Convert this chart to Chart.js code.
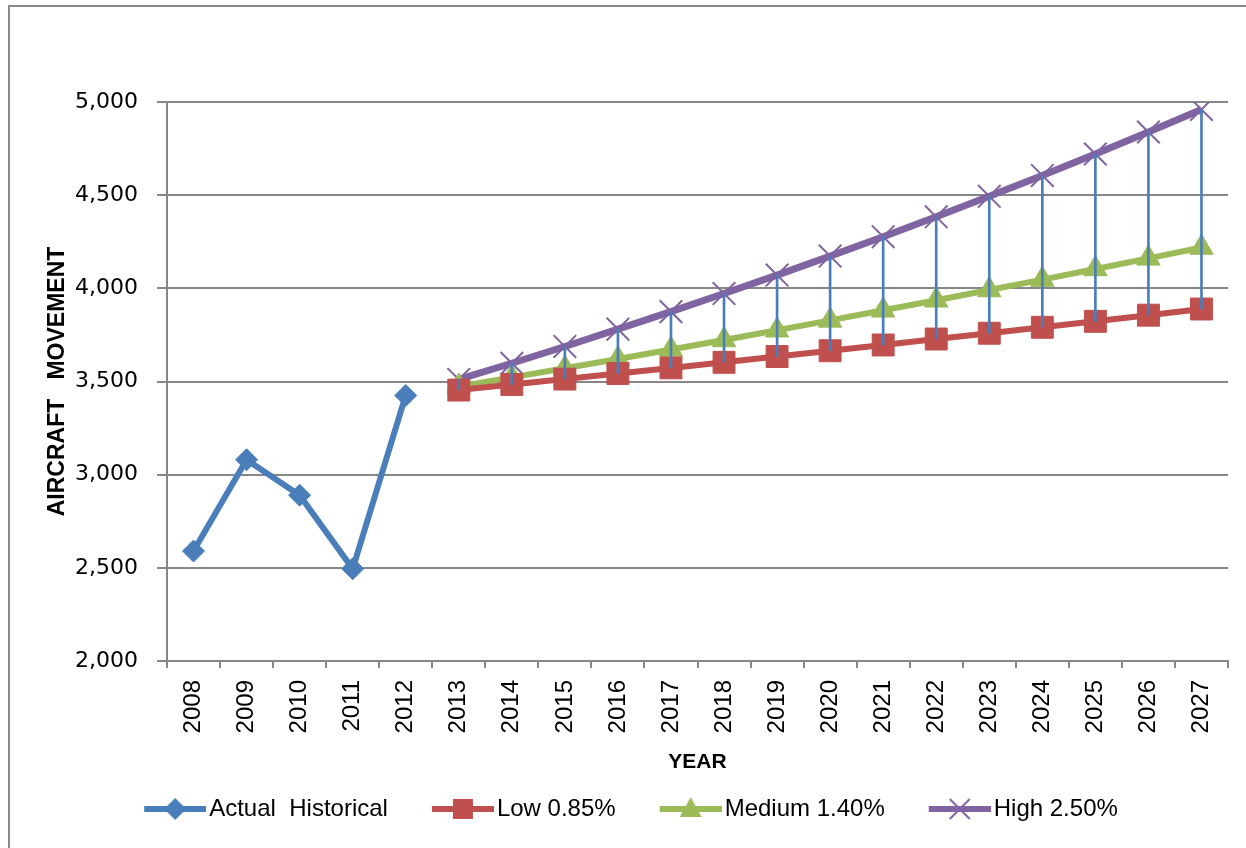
<!DOCTYPE html>
<html>
<head>
<meta charset="utf-8">
<script src="https://cdn.jsdelivr.net/npm/chart.js"></script>
<style>
  html, body { margin: 0; padding: 0; background: #fff; overflow: hidden; }
  #frame { position: absolute; left: 8px; top: 5px; width: 1300px; height: 900px; border: 2px solid #8a8a8a; }
  #wrap { position: absolute; left: 0; top: 0; width: 1246px; height: 848px; }
</style>
</head>
<body>
<div id="frame"></div>
<div id="wrap"><canvas id="chart" width="1246" height="848"></canvas></div>
<script>
const years = ['2008','2009','2010','2011','2012','2013','2014','2015','2016','2017',
               '2018','2019','2020','2021','2022','2023','2024','2025','2026','2027'];
const actual = [2590, 3080, 2890, 2495, 3425, null, null, null, null, null,
                null, null, null, null, null, null, null, null, null, null];
const low    = [null, null, null, null, null, 3454, 3484, 3513, 3543, 3573,
                3603, 3634, 3665, 3696, 3728, 3759, 3791, 3823, 3856, 3889];
const medium = [null, null, null, null, null, 3473, 3522, 3571, 3621, 3672,
                3723, 3775, 3828, 3882, 3936, 3991, 4047, 4104, 4161, 4219];
const high   = [null, null, null, null, null, 3511, 3598, 3688, 3781, 3875,
                3972, 4071, 4173, 4277, 4384, 4494, 4606, 4721, 4839, 4960];

// high-low lines between the Low and High forecasts
const hiLow = low.map((v, i) => v == null ? null : [v, high[i]]);

const BLUE = '#4A7EBB', RED = '#C0504D', GREEN = '#9BBB59', PURPLE = '#8064A2';
const GRID = '#878787';

// legend icon: a short line with the marker on it, padded on the left for spacing
function legendIcon(color, marker) {
  const c = document.createElement('canvas');
  c.width = 105; c.height = 28;
  const g = c.getContext('2d');
  const cx = 74, cy = 14;
  g.strokeStyle = color; g.fillStyle = color; g.lineWidth = 6;
  g.beginPath(); g.moveTo(43, cy); g.lineTo(105, cy); g.stroke();
  g.beginPath();
  if (marker === 'diamond') {
    g.moveTo(cx, cy - 11); g.lineTo(cx + 11, cy); g.lineTo(cx, cy + 11); g.lineTo(cx - 11, cy); g.closePath(); g.fill();
  } else if (marker === 'square') {
    g.rect(cx - 10, cy - 10, 20, 20); g.fill();
  } else if (marker === 'triangle') {
    g.moveTo(cx, cy - 12); g.lineTo(cx + 11, cy + 8); g.lineTo(cx - 11, cy + 8); g.closePath(); g.fill();
  } else {
    g.lineWidth = 2;
    g.moveTo(cx - 10, cy - 10); g.lineTo(cx + 10, cy + 10);
    g.moveTo(cx + 10, cy - 10); g.lineTo(cx - 10, cy + 10); g.stroke();
  }
  return c;
}

const ctx = document.getElementById('chart').getContext('2d');
new Chart(ctx, {
  type: 'line',
  data: {
    labels: years,
    datasets: [
      {
        label: 'Actual  Historical', data: actual,
        borderColor: BLUE, backgroundColor: BLUE, borderWidth: 6,
        pointStyle: 'rectRot', pointRadius: 11, pointBorderWidth: 1,
        icon: legendIcon(BLUE, 'diamond'), order: 1
      },
      {
        label: 'Low 0.85%', data: low,
        borderColor: RED, backgroundColor: RED, borderWidth: 6,
        pointStyle: 'rect', pointRadius: 15.5, pointBorderWidth: 1,
        icon: legendIcon(RED, 'square'), order: 1
      },
      {
        label: 'Medium 1.40%', data: medium,
        borderColor: GREEN, backgroundColor: GREEN, borderWidth: 6,
        pointStyle: 'triangle', pointRadius: 13.5, pointBorderWidth: 1,
        icon: legendIcon(GREEN, 'triangle'), order: 1
      },
      {
        label: 'High 2.50%', data: high,
        borderColor: PURPLE, backgroundColor: PURPLE, borderWidth: 7,
        pointStyle: 'crossRot', pointRadius: 16, pointBorderWidth: 2,
        icon: legendIcon(PURPLE, 'cross'), order: 1
      },
      {
        type: 'bar', label: 'hilo', data: hiLow,
        backgroundColor: BLUE, borderWidth: 0, barThickness: 2,
        hideInLegend: true, order: 0
      }
    ]
  },
  options: {
    responsive: false,
    animation: false,
    layout: { padding: { top: 102, left: 0, right: 18, bottom: 17 } },
    scales: {
      x: {
        offset: true,
        grid: { offset: true, drawOnChartArea: false, drawTicks: true, tickLength: 7, color: GRID, lineWidth: 2 },
        border: { color: GRID, width: 2 },
        ticks: {
          color: '#000', maxRotation: 90, minRotation: 90, padding: 12, autoSkip: false,
          font: { family: 'Liberation Sans, Arial, sans-serif', size: 24 }
        },
        title: {
          display: true, text: 'YEAR', color: '#000',
          font: { family: 'Liberation Sans, Arial, sans-serif', size: 21, weight: 'bold' },
          padding: { top: 0, bottom: 12 }
        },
        afterFit(scale) { scale.height = 126; }
      },
      y: {
        min: 2000, max: 5000,
        grid: { color: GRID, lineWidth: 2, tickLength: 10 },
        border: { color: GRID, width: 2 },
        ticks: {
          stepSize: 500, color: '#000', padding: 19,
          font: { family: 'DejaVu Sans, Verdana, sans-serif', size: 22 },
          callback: v => v.toLocaleString('en-US')
        },
        title: {
          display: true, text: 'AIRCRAFT   MOVEMENT', color: '#000',
          font: { family: 'Liberation Sans, Arial, sans-serif', size: 23, weight: 'bold' },
          padding: { top: 44, bottom: 0 }
        },
        afterFit(scale) { scale.width = 167; }
      }
    },
    plugins: {
      tooltip: { enabled: false },
      legend: {
        position: 'bottom',
        labels: {
          usePointStyle: true,
          pointStyleWidth: 87,
          padding: 10,
          color: '#000',
          font: { family: 'Liberation Sans, Arial, sans-serif', size: 24 },
          generateLabels(chart) {
            return chart.data.datasets
              .map((ds, i) => ({
                text: ds.label, datasetIndex: i, hidden: false,
                pointStyle: ds.icon, fillStyle: 'transparent',
                strokeStyle: 'transparent', lineWidth: 0, fontColor: '#000'
              }))
              .filter(item => !chart.data.datasets[item.datasetIndex].hideInLegend);
          }
        }
      }
    }
  }
});
</script>
</body>
</html>
